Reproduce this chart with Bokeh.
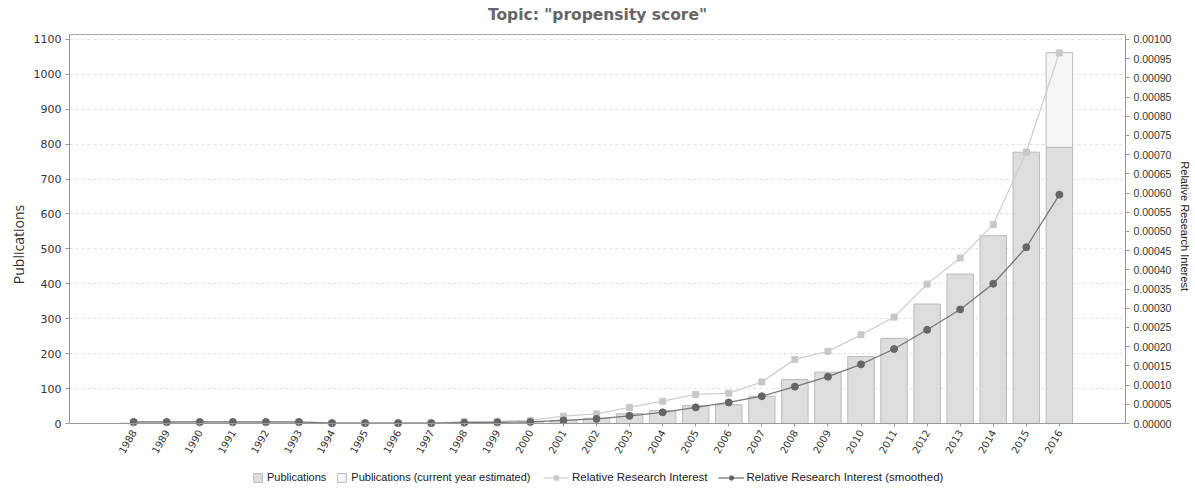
from bokeh.plotting import figure
from bokeh.models import (Range1d, LinearAxis, FixedTicker, NumeralTickFormatter,
                          Legend, LegendItem, Span, Label)
from bokeh.embed import file_html
from bokeh.resources import INLINE

years = list(range(1988, 2017))
publications = [1, 1, 1, 1, 1, 1, 0, 0, 0, 0, 3, 4, 5, 9, 15, 28, 37, 51, 54, 78,
                126, 147, 192, 244, 342, 428, 538, 777, 791]
estimated_year = [2016]
estimated_total = [1062]
estimated_base = [791]
rri = [0.000003, 0.000003, 0.000003, 0.000003, 0.000003, 0.000003, 0.000001, 0.000001,
       0.000001, 0.000001, 0.000005, 0.000006, 0.000008, 0.000019, 0.000025, 0.000042,
       0.000058, 0.000076, 0.000079, 0.000108, 0.000167, 0.000188, 0.000231, 0.000277,
       0.000363, 0.000431, 0.000518, 0.000707, 0.000965]
rri_smoothed = [0.000004, 0.000004, 0.000004, 0.000004, 0.000004, 0.000004, 0.000001,
                0.000001, 0.000001, 0.000001, 0.000002, 0.000003, 0.000004, 0.000008,
                0.000012, 0.000020, 0.000029, 0.000042, 0.000055, 0.000071, 0.000096,
                0.000122, 0.000154, 0.000194, 0.000244, 0.000297, 0.000364, 0.000459,
                0.000596]
left_ticks = list(range(0, 1101, 100))
right_ticks = [i * 0.00005 for i in range(21)]
title_text = 'Topic: "propensity score"'

FONT = "DejaVu Sans"

# layout: the frame covers the full canvas height; x axis pinned at y=0
W, H = 1195, 488
LEFT, RIGHT = 69, 70
TOP_PX = 34            # px from canvas top to the top of the plotting area
PLOT_H = 389           # px between value 0 and the top of the plotting area
BELOW = H - TOP_PX - PLOT_H
YMAX, RMAX = 1114, 0.001013
UPP = YMAX / PLOT_H    # data units per pixel (left scale)
PAD = "\u00a0" * 12    # invisible padding to centre the right label on the axis

p = figure(width=W, height=H, output_backend="svg", toolbar_location=None,
           x_range=Range1d(1986.06, 2018.0),
           y_range=Range1d(-BELOW * UPP, YMAX + TOP_PX * UPP),
           x_axis_location=None,
           min_border_left=LEFT, min_border_right=RIGHT, min_border_top=0,
           min_border_bottom=0)
p.extra_y_ranges = {"rri": Range1d(-RMAX * BELOW / PLOT_H,
                                   RMAX * (PLOT_H + TOP_PX) / PLOT_H)}

p.outline_line_color = None
p.xgrid.grid_line_color = None
p.ygrid.ticker = FixedTicker(ticks=left_ticks)
p.ygrid.grid_line_color = "#e0e0e0"
p.ygrid.grid_line_dash = "3 3"

# top border of the plotting area
p.add_layout(Span(location=YMAX, dimension="width", line_color="#aaaaaa", line_width=1))

# title
p.add_layout(Label(x=(1986.06 + 2018.0) / 2, y=YMAX + 20 * UPP, text=title_text,
                   text_align="center", text_baseline="middle", text_font=FONT,
                   text_font_size="15.5px", text_font_style="bold", text_color="#666666"))

# bars
bars = p.vbar(x=years, top=publications, width=0.8, fill_color="#dddddd",
              line_color="#bbbbbb", line_width=1)
est = p.vbar(x=estimated_year, bottom=estimated_base, top=estimated_total, width=0.8,
             fill_color="#f6f6f6", line_color="#bbbbbb", line_width=1)

# lines
l1 = p.line(years, rri, y_range_name="rri", line_color="#cfcfcf", line_width=1.3)
m1 = p.scatter(years, rri, y_range_name="rri", marker="square", size=6,
               fill_color="#c8c8c8", line_color="#c8c8c8")
l2 = p.line(years, rri_smoothed, y_range_name="rri", line_color="#777777", line_width=1.3)
m2 = p.scatter(years, rri_smoothed, y_range_name="rri", marker="circle", size=7,
               fill_color="#666666", line_color="#666666")

# x axis pinned at zero
xa = LinearAxis(ticker=FixedTicker(ticks=years), fixed_location=0)
xa.major_label_orientation = 1.05
xa.major_label_text_font = FONT
xa.major_label_text_font_size = "10px"
xa.major_label_text_color = "#333333"
xa.major_label_standoff = 4
xa.axis_line_color = "#999999"
xa.major_tick_line_color = "#999999"
xa.major_tick_out = 3
xa.major_tick_in = 0
xa.minor_tick_line_color = None
p.add_layout(xa, "below")

ya = p.yaxis[0]
ya.ticker = FixedTicker(ticks=left_ticks)
ya.bounds = (0, YMAX)
ya.axis_label = "Publications"
ya.axis_label_text_font = "Open Sans"
ya.axis_label_text_font_size = "14px"
ya.axis_label_text_font_style = "normal"
ya.axis_label_text_color = "#333333"
ya.axis_label_standoff = 3
ya.major_label_text_font = FONT
ya.major_label_text_font_size = "11px"
ya.major_label_text_color = "#333333"
ya.major_label_standoff = 4
ya.axis_line_color = "#999999"
ya.major_tick_line_color = "#999999"
ya.major_tick_out = 4
ya.major_tick_in = 0
ya.minor_tick_line_color = None

ra = LinearAxis(y_range_name="rri", ticker=FixedTicker(ticks=right_ticks),
                formatter=NumeralTickFormatter(format="0.00000"))
ra.bounds = (0, RMAX)
ra.axis_label = "Relative Research Interest" + PAD
ra.axis_label_text_font = "Liberation Sans"
ra.axis_label_text_font_size = "11px"
ra.axis_label_text_font_style = "normal"
ra.axis_label_text_color = "#222222"
ra.axis_label_standoff = 5
ra.major_label_text_font = "Liberation Sans"
ra.major_label_text_font_size = "10.5px"
ra.major_label_text_color = "#333333"
ra.major_label_standoff = 4
ra.axis_line_color = "#999999"
ra.major_tick_line_color = "#999999"
ra.major_tick_out = 4
ra.major_tick_in = 0
ra.minor_tick_line_color = None
p.add_layout(ra, "right")

# legends
common = dict(orientation="horizontal", glyph_height=11, spacing=10, padding=0,
              border_line_color=None, background_fill_alpha=0,
              label_text_font="Liberation Sans", label_text_color="#222222", margin=0)
leg1 = Legend(items=[LegendItem(label="Publications", renderers=[bars]),
                     LegendItem(label="Publications (current year estimated)", renderers=[est])],
              location=(183, 5), glyph_width=11, label_standoff=4,
              label_text_font_size="11px", **common)
leg2 = Legend(items=[LegendItem(label="Relative Research Interest", renderers=[l1, m1]),
                     LegendItem(label="Relative Research Interest (smoothed)", renderers=[l2, m2])],
              location=(474, 5), glyph_width=26, label_standoff=3,
              label_text_font_size="11.5px", **common)
p.add_layout(leg1, "center")
p.add_layout(leg2, "center")

open("out.html", "w").write(file_html(p, INLINE))
